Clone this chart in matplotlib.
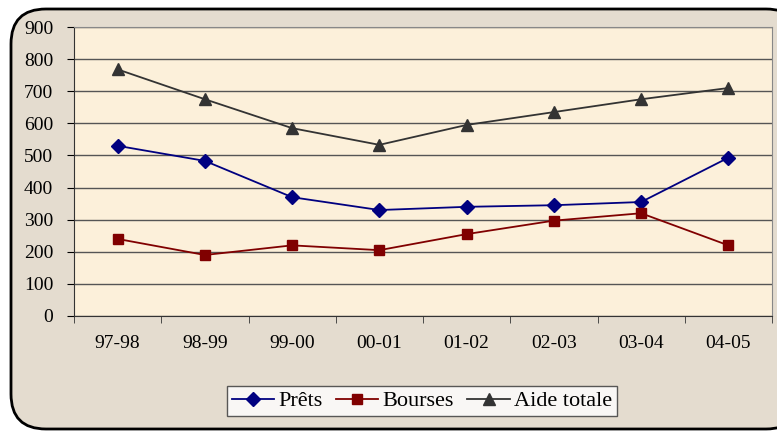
import matplotlib.pyplot as plt
from matplotlib.patches import FancyBboxPatch
import numpy as np

plt.rcParams['font.family'] = ['Liberation Serif', 'DejaVu Serif']

# ── Data ──
periods = ["97-98", "98-99", "99-00", "00-01", "01-02", "02-03", "03-04", "04-05"]
prets = [530, 483, 370, 330, 340, 345, 355, 493]
bourses = [240, 190, 220, 205, 255, 297, 320, 220]
aide_totale = [768, 675, 585, 533, 595, 635, 675, 710]

fig = plt.figure(figsize=(7.77, 4.32), dpi=100)
fig.patch.set_facecolor('white')

# rounded frame behind everything
frame = FancyBboxPatch((11 / 777, 3 / 432), 790 / 777, 420 / 432,
                       boxstyle="round,pad=0,rounding_size=0.045",
                       transform=fig.transFigure, facecolor='#e4dccf',
                       edgecolor='black', linewidth=2.0, mutation_aspect=777 / 432,
                       zorder=-10)
fig.patches.append(frame)

ax = fig.add_axes([74 / 777, 1 - 316 / 432, (772 - 74) / 777, (316 - 27) / 432])
ax.set_facecolor('#fcf0da')

x = np.arange(len(periods))
ax.plot(x, prets, color='#000080', marker='D', markersize=7, linewidth=1.3, label='Prêts')
ax.plot(x, bourses, color='#800000', marker='s', markersize=7, linewidth=1.3, label='Bourses')
ax.plot(x, aide_totale, color='#333333', marker='^', markersize=8, linewidth=1.3, label='Aide totale')

ax.set_xlim(-0.5, len(periods) - 0.5)
ax.set_ylim(0, 900)
ax.set_yticks(range(0, 1000, 100))
ax.set_xticks(x)
ax.set_xticklabels(periods)
ax.set_xticks(np.arange(-0.5, len(periods), 1), minor=True)
ax.tick_params(axis='x', which='major', length=0, pad=14, labelsize=14)
ax.tick_params(axis='x', which='minor', length=5, direction='out', color='#333333')
ax.tick_params(axis='y', length=5, direction='out', labelsize=14, pad=10)

ax.yaxis.grid(True, color='#555555', linewidth=1.0)
ax.set_axisbelow(True)
for side in ['top', 'right']:
    ax.spines[side].set_color('#888888')
for side in ['left', 'bottom']:
    ax.spines[side].set_color('#333333')

leg = fig.legend(loc='center', bbox_to_anchor=(422 / 777, 1 - 401 / 432), ncol=3,
                 frameon=True, fancybox=False, edgecolor='#333333', fontsize=16,
                 handlelength=1.9, handletextpad=0.2, columnspacing=0.6,
                 borderpad=0.2, borderaxespad=0)
leg.get_frame().set_linewidth(1.0)
leg.get_frame().set_facecolor('white')

fig.savefig('out.png', dpi=100, facecolor=fig.get_facecolor())
